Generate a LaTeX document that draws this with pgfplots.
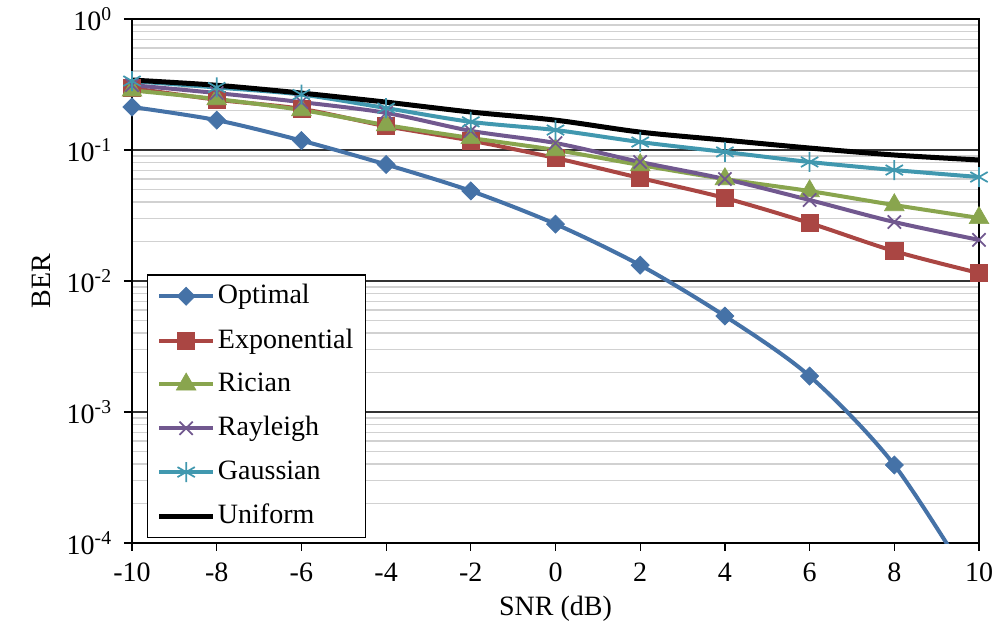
\documentclass[border=0pt]{standalone}
\usepackage{pgfplots}
\pgfplotsset{compat=1.18}
\usepackage{fontspec}
\setmainfont{Liberation Serif}

\definecolor{cOpt}{HTML}{4572A7}
\definecolor{cExp}{HTML}{AA4643}
\definecolor{cRic}{HTML}{89A54E}
\definecolor{cRay}{HTML}{71588F}
\definecolor{cGau}{HTML}{4198AF}

\newcommand{\chartfont}{\fontsize{21}{24}\selectfont}

\begin{document}
\begin{tikzpicture}
\chartfont
\begin{axis}[
  name=ax,
  scale only axis,
  width=635.25pt, height=393pt,
  ymode=log,
  xmin=-10, xmax=10, ymin=1e-4, ymax=1,
  xtick={-10,-8,-6,-4,-2,0,2,4,6,8,10},
  xticklabels={-10,-8,-6,-4,-2,0,2,4,6,8,10},
  ytick={1e-4,1e-3,1e-2,1e-1,1},
  yticklabels={10\textsuperscript{-4},10\textsuperscript{-3},10\textsuperscript{-2},10\textsuperscript{-1},10\textsuperscript{0}},
  minor ytick={2e-4,3e-4,4e-4,5e-4,6e-4,7e-4,8e-4,9e-4,
               2e-3,3e-3,4e-3,5e-3,6e-3,7e-3,8e-3,9e-3,
               2e-2,3e-2,4e-2,5e-2,6e-2,7e-2,8e-2,9e-2,
               2e-1,3e-1,4e-1,5e-1,6e-1,7e-1,8e-1,9e-1},
  tick align=outside, tick pos=left,
  major tick length=6pt, minor tick length=0pt,
  tick style={black, line width=0.9pt},
  ymajorgrids, yminorgrids,
  major grid style={black!80, line width=0.8pt},
  minor grid style={black!18, line width=1pt},
  axis line style={black, line width=1pt},
  ticklabel style={font=\chartfont},
  xticklabel style={yshift=-2pt},
  yticklabel style={xshift=-2pt},
  label style={font=\chartfont},
  xlabel={SNR (dB)},
  ylabel={BER},
  xlabel style={yshift=4pt},
  ylabel style={yshift=-2pt},
  legend style={at={(0.0177,0.0095)}, anchor=south west, draw=black, line width=1pt,
    fill=white, font=\chartfont, row sep=11.5pt,
    inner xsep=7pt, inner ysep=5pt, cells={anchor=west}},
  legend image code/.code={%
    \draw[mark repeat=2,mark phase=2] plot coordinates {(0pt,0pt) (20pt,0pt) (40pt,0pt)};},
  every axis plot/.append style={smooth, tension=0.5},
]

% Optimal
\addplot[color=cOpt, line width=3pt, mark=square*, mark size=4.8pt,
  mark options={rotate=45, fill=cOpt, draw=cOpt, line width=0.5pt}]
  coordinates {(-10,0.213) (-8,0.169) (-6,0.118) (-4,0.0775) (-2,0.0487)
               (0,0.0272) (2,0.0132) (4,0.0054) (6,0.00188) (8,0.000394) (10,0.00004)};
\addlegendentry{Optimal}

% Exponential
\addplot[color=cExp, line width=3pt, mark=square*, mark size=6.4pt,
  mark options={fill=cExp, draw=cExp, line width=0.5pt}]
  coordinates {(-10,0.297) (-8,0.242) (-6,0.206) (-4,0.152) (-2,0.118)
               (0,0.0869) (2,0.0611) (4,0.043) (6,0.0277) (8,0.0169) (10,0.0115)};
\addlegendentry{Exponential}

% Rician
\addplot[color=cRic, line width=3pt, mark=triangle*, mark size=8.5pt,
  mark options={fill=cRic, draw=cRic, line width=0.5pt}]
  coordinates {(-10,0.285) (-8,0.245) (-6,0.202) (-4,0.155) (-2,0.1235)
               (0,0.1) (2,0.0768) (4,0.060) (6,0.0486) (8,0.038) (10,0.0303)};
\addlegendentry{Rician}

% Rayleigh
\addplot[color=cRay, line width=3pt, mark=x, mark size=7pt,
  mark options={draw=cRay, line width=1.3pt}]
  coordinates {(-10,0.313) (-8,0.272) (-6,0.232) (-4,0.192) (-2,0.14)
               (0,0.113) (2,0.081) (4,0.060) (6,0.0415) (8,0.0282) (10,0.0206)};
\addlegendentry{Rayleigh}

% Gaussian
\addplot[color=cGau, line width=3pt, mark=asterisk, mark size=7.5pt,
  mark options={draw=cGau, line width=1.3pt}]
  coordinates {(-10,0.336) (-8,0.30) (-6,0.265) (-4,0.209) (-2,0.164)
               (0,0.142) (2,0.115) (4,0.0966) (6,0.081) (8,0.0703) (10,0.0622)};
\addlegendentry{Gaussian}

% Uniform
\addplot[color=black, line width=3.75pt, mark=none]
  coordinates {(-10,0.342) (-8,0.312) (-6,0.272) (-4,0.232) (-2,0.195)
               (0,0.169) (2,0.137) (4,0.119) (6,0.1035) (8,0.0916) (10,0.0839)};
\addlegendentry{Uniform}

\end{axis}
\pgfresetboundingbox
\path[use as bounding box] (ax.south west) ++(-99pt,-64.5pt) rectangle ++(748.5pt,471.75pt);
\end{tikzpicture}
\end{document}
